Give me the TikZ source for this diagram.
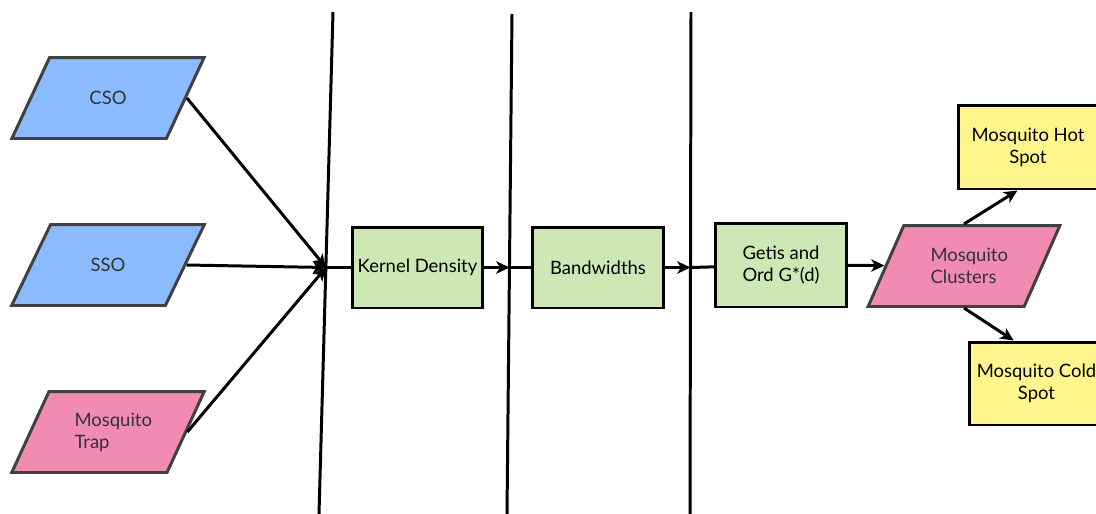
\documentclass[tikz,border=0pt]{standalone}
\usepackage{fontspec}
\setsansfont{Lato}
\usetikzlibrary{arrows.meta}
\usetikzlibrary{shapes.geometric}
\definecolor{inblue}{RGB}{138,187,253}
\definecolor{inpink}{RGB}{241,139,177}
\definecolor{stepgreen}{RGB}{205,231,181}
\definecolor{outyellow}{RGB}{254,246,141}
\tikzset{
	>={Stealth[length=7.5pt,width=7pt,inset=2pt]},
	datain/.style={
		trapezium,
		trapezium left angle=58,
		trapezium right angle=122,
		trapezium stretches=true,
		draw=black!75, line width=1.7pt,
		minimum width=3.86cm,
		minimum height=1.62cm,
		text=black!80},
	process/.style={
		rectangle,
		fill=stepgreen,
		draw=black, line width=1.7pt,
		minimum width=2.62cm,
		minimum height=1.62cm,
		inner sep=1pt,
		align=center},
	result/.style={
		rectangle,
		fill=outyellow,
		draw=black, line width=1.7pt,
		minimum width=2.8cm,
		minimum height=1.68cm,
		align=center},
	flow/.style={draw, line width=1.7pt, ->},
	link/.style={draw, line width=1.7pt},
	divider/.style={line width=1.7pt},
}
\begin{document}
\begin{tikzpicture}[x=0.02cm, y=-0.02cm, font=\sffamily\fontsize{10.5}{12.5}\selectfont]
	\useasboundingbox (0,0) rectangle (1096,514);
	\clip (0,0) rectangle (1096,514);
	% stage dividers
	\draw[divider] (333,12) -- (319,514);
	\draw[divider] (512,14) -- (507,514);
	\draw[divider] (691,12) -- (690,514);
	% inputs
	\node[datain, fill=inblue] (cso) at (108,98) {CSO};
	\node[datain, fill=inblue] (sso) at (108,265) {SSO};
	\node[datain, fill=inpink, align=left] (trap) at (108,432) {\hspace*{6pt}Mosquito\\\hspace*{6pt}Trap};
	% processing steps
	\coordinate (hub) at (326,267.5);
	\node[process] (kd) at (417.5,267.5) {Kernel Density};
	\coordinate (cut2) at (509.5,267.5);
	\node[process] (bw) at (598,267.5) {Bandwidths};
	\coordinate (cut3) at (690.5,267.5);
	\node[process, minimum height=1.68cm] (getis) at (781,265) {Getis and\\Ord G*(d)};
	% outputs
	\node[datain, fill=inpink, align=left] (clusters) at (964,266) {\hspace*{6pt}Mosquito\\\hspace*{6pt}Clusters};
	\node[result] (hot) at (1028,147) {Mosquito Hot\\Spot};
	\node[result, minimum width=2.7cm, minimum height=1.66cm] (cold) at (1036.5,383.5) {Mosquito Cold\\Spot};
	% connectors
	\draw[flow] (cso.east) -- (hub);
	\draw[flow] (sso.east) -- (hub);
	\draw[flow] (trap.east) -- (hub);
	\draw[link] (hub) -- (kd);
	\draw[flow] (kd) -- (cut2);
	\draw[link] (cut2) -- (bw);
	\draw[flow] (bw) -- (cut3);
	\draw[link] (cut3) -- (getis);
	\draw[flow] (getis) -- (clusters);
	\draw[flow] (clusters.north) -- ([xshift=-6]hot.south);
	\draw[flow] (clusters.south) -- ([xshift=-13]cold.north);
\end{tikzpicture}
\end{document}
